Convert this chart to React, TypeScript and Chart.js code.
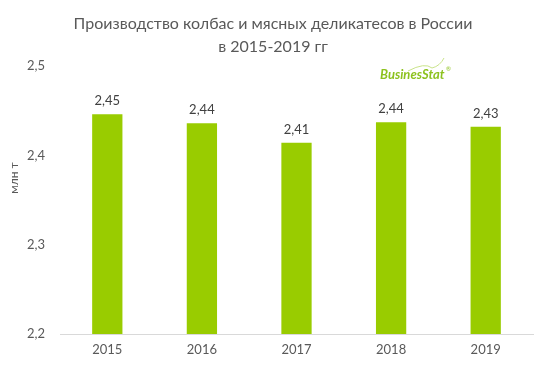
import React, { useEffect, useRef } from "react";
import { Chart, registerables } from "chart.js";

Chart.register(...registerables);

const years = ["2015", "2016", "2017", "2018", "2019"];
const production = [2.446, 2.436, 2.414, 2.437, 2.432];
const titleLines = ["Производство колбас и мясных деликатесов в России", "в 2015-2019 гг"];
const yAxisTitle = "млн т";
const yMin = 2.2;
const yMax = 2.5;

const FONT = "Lato, 'Open Sans', sans-serif";
const GREY = "#595959";

const decor = {
  id: "decor",
  afterDraw(chart: any) {
    const ctx = chart.ctx;
    ctx.save();
    // title
    ctx.fillStyle = GREY;
    ctx.font = `16px ${FONT}`;
    ctx.textAlign = "center";
    ctx.textBaseline = "middle";
    ctx.fillText(titleLines[0], 273, 24);
    ctx.fillText(titleLines[1], 273, 47);
    // y axis title
    ctx.save();
    ctx.translate(14, 178);
    ctx.rotate(-Math.PI / 2);
    ctx.font = `12px ${FONT}`;
    ctx.fillText(yAxisTitle, 0, 0);
    ctx.restore();
    // data labels
    const meta = chart.getDatasetMeta(0);
    ctx.fillStyle = "#404040";
    ctx.font = `13px ${FONT}`;
    meta.data.forEach((bar: any, i: number) => {
      const v = production[i].toFixed(2).replace(".", ",");
      ctx.fillText(v, bar.x, bar.y - 13);
    });
    // logo
    ctx.strokeStyle = "#c9e38a";
    ctx.lineWidth = 1;
    ctx.beginPath();
    ctx.moveTo(408, 71);
    ctx.quadraticCurveTo(425, 62, 432, 68);
    ctx.quadraticCurveTo(440, 66, 444, 58);
    ctx.stroke();
    ctx.fillStyle = "#8DC21F";
    ctx.font = `italic bold 13px ${FONT}`;
    ctx.textAlign = "left";
    ctx.fillText("BusinesStat", 380, 75);
    ctx.font = `6px ${FONT}`;
    ctx.fillText("®", 446, 69);
    ctx.restore();
  },
};

export default function App() {
  const ref = useRef<HTMLCanvasElement>(null);
  useEffect(() => {
    const chart = new Chart(ref.current!, {
      type: "bar",
      data: {
        labels: years,
        datasets: [
          {
            data: production,
            backgroundColor: "#99CC00",
            categoryPercentage: 1,
            barPercentage: 0.32,
          },
        ],
      },
      options: {
        animation: false,
        responsive: false,
        maintainAspectRatio: false,
        layout: { padding: { top: 66, right: 26, bottom: 0, left: 0 } },
        plugins: { legend: { display: false }, tooltip: { enabled: false }, title: { display: false } },
        scales: {
          x: {
            grid: { display: false, drawTicks: false },
            border: { display: true, color: "#d9d9d9", width: 1 },
            ticks: { color: GREY, font: { family: FONT, size: 13 }, padding: 8 },
            afterFit: (s: any) => {
              s.height = 49;
            },
          },
          y: {
            min: yMin,
            max: yMax,
            grid: { display: false, drawTicks: false },
            border: { display: false },
            ticks: {
              stepSize: 0.1,
              color: GREY,
              font: { family: FONT, size: 13 },
              padding: 15,
              callback: (v: any) => Number(v).toFixed(1).replace(".", ","),
            },
            afterFit: (s: any) => {
              s.width = 60;
            },
          },
        },
      },
      plugins: [decor],
    });
    return () => chart.destroy();
  }, []);
  return (
    <div style={{ position: "absolute", left: 0, top: 0, width: 559, height: 383, background: "#fff" }}>
      <canvas ref={ref} width={559} height={383} />
    </div>
  );
}
